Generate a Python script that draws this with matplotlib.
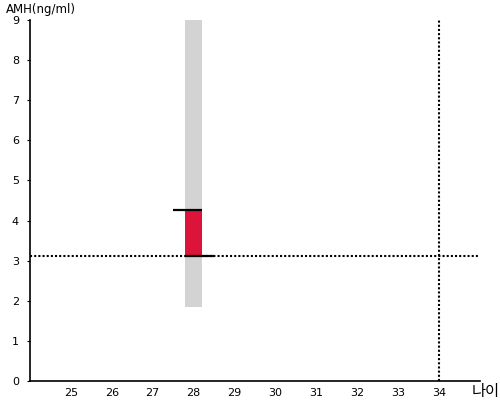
import matplotlib
matplotlib.use("Agg")
import matplotlib.pyplot as plt

plt.rcParams['font.family'] = ['DejaVu Sans', 'Noto Sans CJK KR']

# data
age = 28
range_low, range_high = 1.85, 9.0
amh_low, amh_high = 3.12, 4.26
ref_amh = 3.12
ref_age = 34
x_ticks = [25, 26, 27, 28, 29, 30, 31, 32, 33, 34]
y_ticks = [0, 1, 2, 3, 4, 5, 6, 7, 8, 9]

fig = plt.figure(figsize=(5, 4), dpi=100)
ax = fig.add_axes([0.06, 0.0475, 0.90, 0.9025])
ax.set_xlim(24, 35)
ax.set_ylim(0, 9)

ax.bar(age, range_high - range_low, bottom=range_low, width=0.4, color='#d3d3d3', zorder=1)
ax.bar(age, amh_high - amh_low, bottom=amh_low, width=0.4, color='#dc143c', zorder=2)
ax.hlines(amh_high, age - 0.5, age + 0.2, color='black', lw=1.6, zorder=3)
ax.hlines(amh_low, age - 0.2, age + 0.5, color='black', lw=1.6, zorder=3)

ax.axhline(ref_amh, color='black', lw=1.5, linestyle=(0, (1, 1)), zorder=4)
ax.axvline(ref_age, color='black', lw=1.5, linestyle=(0, (1, 1)), zorder=4)

ax.set_xticks(x_ticks)
ax.set_yticks(y_ticks)
ax.tick_params(axis='x', length=0, labelsize=8, pad=5)
ax.tick_params(axis='y', length=2, labelsize=8, pad=6)
for s in ['top', 'right']:
    ax.spines[s].set_visible(False)
ax.spines['left'].set_linewidth(1.2)
ax.spines['bottom'].set_linewidth(1.2)

fig.text(0.012, 0.968, 'AMH(ng/ml)', fontsize=8.5, ha='left', va='baseline')
fig.text(0.944, 0.01, '나이', fontsize=11, ha='left', va='baseline',
         family=['Noto Sans CJK KR', 'DejaVu Sans'])

fig.savefig('out.png', dpi=100)
